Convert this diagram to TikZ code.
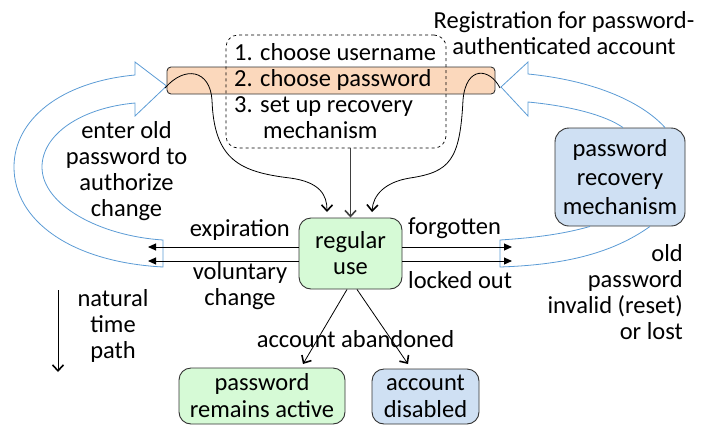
\documentclass[tikz,border=0pt]{standalone}
\usepackage{fontspec}
\setmainfont{Carlito}
\usetikzlibrary{arrows.meta}
\definecolor{peach}{RGB}{251,216,188}
\definecolor{mint}{RGB}{214,250,214}
\definecolor{sky}{RGB}{207,224,243}
\definecolor{pblue}{RGB}{91,155,213}
\definecolor{edge}{RGB}{50,50,50}
\tikzset{
  box/.style={draw=edge, line width=0.9pt, rounded corners=12pt, inner sep=0pt, align=center},
  lbl/.style={inner sep=0pt, align=center},
  barb/.style={line width=0.8pt, -{Straight Barb[length=6pt,width=11pt,line width=1.6pt]}},
  tri/.style={line width=1pt, -{Triangle[length=8pt,width=7pt]}},
  fat/.style={draw=pblue, line width=0.8pt},
}
\begin{document}
\begin{tikzpicture}[x=1pt,y=-1pt,font=\fontsize{24.5}{26}\selectfont]
\useasboundingbox (0,0) rectangle (701,426);
% orange bar
\node[draw=edge, line width=0.9pt, fill=peach, rounded corners=4pt, minimum width=328pt, minimum height=27pt, inner sep=0pt] (bar) at (331,80.5) {};
% dashed box
\node[draw=black, dashed, line width=0.7pt, rounded corners=12pt, minimum width=220pt, minimum height=113pt, inner sep=0pt] (steps) at (336,91.5) {};
\node[lbl, anchor=west, align=left] (items) at (234,91) {1. choose username\\2. choose password\\3. set up recovery\\\hspace*{29pt}mechanism};
% boxes
\node[box, fill=mint, minimum width=103pt, minimum height=71pt] (use) at (350.5,253.5) {regular\\use};
\node[box, fill=sky, rounded corners=14pt, minimum width=130pt, minimum height=98pt, font=\fontsize{24.5}{29}\selectfont] (rec) at (620,177) {password\\recovery\\mechanism};
\node[box, fill=mint, minimum width=166pt, minimum height=56pt, font=\fontsize{24.5}{27}\selectfont] (active) at (262,396) {password\\remains active};
\node[box, fill=sky, minimum width=107pt, minimum height=55pt, font=\fontsize{24.5}{27}\selectfont] (dis) at (425.5,396.5) {account\\disabled};
% labels
\node[lbl] (reg) at (564,33) {Registration for password-\\authenticated account};
\node[lbl] (enter) at (126.5,171) {enter old\\password to\\authorize\\change};
\node[lbl, anchor=east] (exp) at (290,230) {expiration};
\node[lbl] (vol) at (240,286) {voluntary\\change};
\node[lbl, anchor=west] (forg) at (408,228) {forgotten};
\node[lbl, anchor=west] (lock) at (408,280) {locked out};
\node[lbl, align=right, anchor=east] (old) at (683,292) {old\\password\\invalid (reset)\\or lost};
\node[lbl] (nat) at (113,326) {natural\\time\\path};
\node[lbl] (aband) at (355.5,339) {account abandoned};
% blue fat arrows
\draw[fat] (163,240) .. controls (100,236) and (42,205) .. (42,167)
  .. controls (42,135) and (80,108) .. (135,103) -- (135,116) -- (bar.west |- 0,86) -- (135,62) -- (135,75)
  .. controls (60,82) and (14,120) .. (14,167) .. controls (14,220) and (70,262) .. (163,267) -- cycle;
\draw[fat] (rec.north -| 623,0) .. controls (605,115) and (570,106) .. (528,102) -- (528,116) -- (501,87) -- (528,62) -- (528,74)
  .. controls (590,80) and (640,100) .. (rec.north -| 665,0);
\draw[fat] (rec.south -| 590,0) .. controls (560,235) and (530,238) .. (500,240) -- (500,267)
  .. controls (560,265) and (610,255) .. (rec.south -| 650,0);
% black arrows
\coordinate (e1) at (148,247);
\coordinate (e2) at (148,261);
\coordinate (f1) at (512,247);
\coordinate (f2) at (512,261);
\draw[tri] (use.west |- e1) -- (e1);
\draw[tri] (use.west |- e2) -- (e2);
\draw[tri] (use.east |- f1) -- (f1);
\draw[tri] (use.east |- f2) -- (f2);
\coordinate (ls) at (165,88);
\coordinate (lt) at (327,212);
\coordinate (rs) at (500,88);
\coordinate (rt) at (372,212);
\draw[barb] (ls) .. controls (185,65) and (210,70) .. (212,100) .. controls (214,160) and (240,172) .. (290,178) .. controls (320,182) and (327,195) .. (lt);
\draw[barb] (rs) .. controls (490,68) and (466,65) .. (463,100) .. controls (460,160) and (450,172) .. (410,178) .. controls (385,182) and (373,195) .. (rt);
\draw[barb, draw=black!75] (use.north |- steps.south) -- (use.north);
\coordinate (a1) at (303,364);
\coordinate (a2) at (408,364);
\draw[barb] (use.south -| 347,0) -- (a1);
\draw[barb] (use.south -| 357,0) -- (a2);
\coordinate (t0) at (58,290);
\coordinate (t1) at (58,372);
\draw[barb] (t0) -- (t1);
\end{tikzpicture}
\end{document}
